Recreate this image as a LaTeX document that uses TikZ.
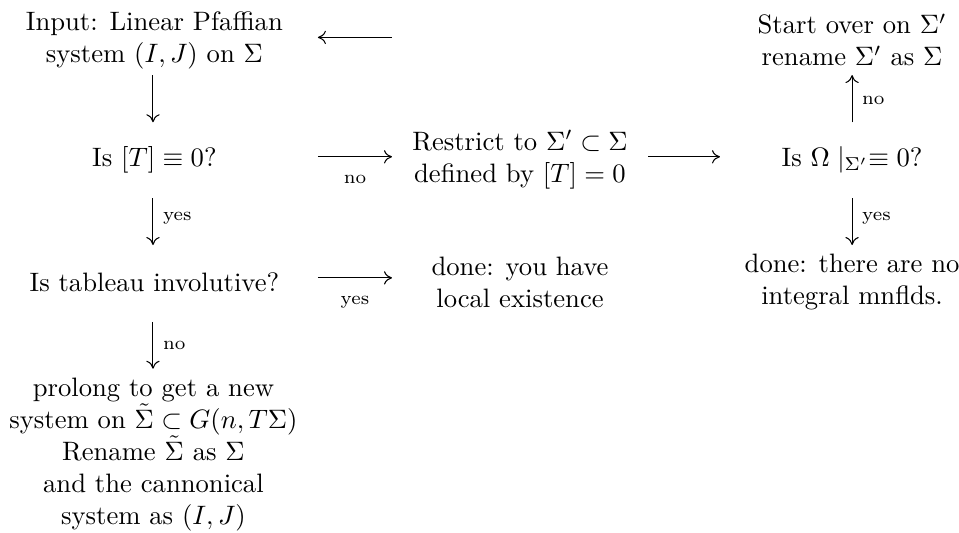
\documentclass[tikz,border=0pt]{standalone}
\usetikzlibrary{arrows.meta}
\begin{document}
\begin{tikzpicture}[x=0.9pt,y=-0.9pt,
  txt/.style={align=center,inner sep=0pt},
  arr/.style={-{To[length=3pt,width=5pt]},line width=0.4pt},
  lab/.style={font=\scriptsize,inner sep=0pt},
  hlab/.style={lab,anchor=base,yshift=-10pt},
  vlab/.style={lab,anchor=west,xshift=3.6pt}]
\useasboundingbox (0,0) rectangle (400,222.3);
\node[txt] (in)    at (64.4,17)   {Input: Linear Pfaffian\\ system $(I,J)$ on $\Sigma$};
\node[txt] (T)     at (64.4,66.7) {Is $[T]\equiv 0$?};
\node[txt] (tab)   at (64.4,117.6){Is tableau involutive?};
\node[txt] (pro)   at (64.0,189.5){prolong to get a new\\ system on $\tilde\Sigma\subset G(n,T\Sigma)$\\ Rename $\tilde\Sigma$ as $\Sigma$\\ and the cannonical\\ system as $(I,J)$};
\node[txt] (res)   at (216.9,66.7){Restrict to $\Sigma'\subset\Sigma$\\ defined by $[T]=0$};
\node[txt] (done1) at (216.9,117.8){done: you have\\ local existence};
\node[txt] (start) at (355.4,16.7){Start over on $\Sigma'$\\ rename $\Sigma'$ as $\Sigma$};
\node[txt] (om)    at (355.4,66.7){Is $\Omega\mid_{\Sigma'}\equiv 0$?};
\node[txt] (done2) at (355.4,117.8){done: there are no\\ integral mnflds.};
% arrow end points
\coordinate (a1s) at (163.5,15.6); \coordinate (a1e) at (132.6,15.6);
\coordinate (a2s) at (132.6,65.4); \coordinate (a2e) at (163.5,65.4);
\coordinate (a3s) at (270.3,65.4); \coordinate (a3e) at (300.3,65.4);
\coordinate (a4s) at (132.6,115.9);\coordinate (a4e) at (163.5,115.9);
\coordinate (v1s) at (63.8,31.3);  \coordinate (v1e) at (63.8,51.0);
\coordinate (v2s) at (63.8,82.6);  \coordinate (v2e) at (63.8,102.2);
\coordinate (v3s) at (63.8,134.3); \coordinate (v3e) at (63.8,153.8);
\coordinate (v4s) at (355.4,51.0); \coordinate (v4e) at (355.4,31.3);
\coordinate (v5s) at (355.4,82.6); \coordinate (v5e) at (355.4,102.2);
\draw[arr] (a1s) -- (a1e);
\draw[arr] (a2s) -- node[hlab]{no} (a2e);
\draw[arr] (a3s) -- (a3e);
\draw[arr] (a4s) -- node[hlab]{yes} (a4e);
\draw[arr] (v1s) -- (v1e);
\draw[arr] (v2s) -- node[vlab,pos=0.43]{yes} (v2e);
\draw[arr] (v3s) -- node[vlab,pos=0.5]{no} (v3e);
\draw[arr] (v4s) -- node[vlab,pos=0.47]{no} (v4e);
\draw[arr] (v5s) -- node[vlab,pos=0.43]{yes} (v5e);
\end{tikzpicture}
\end{document}
